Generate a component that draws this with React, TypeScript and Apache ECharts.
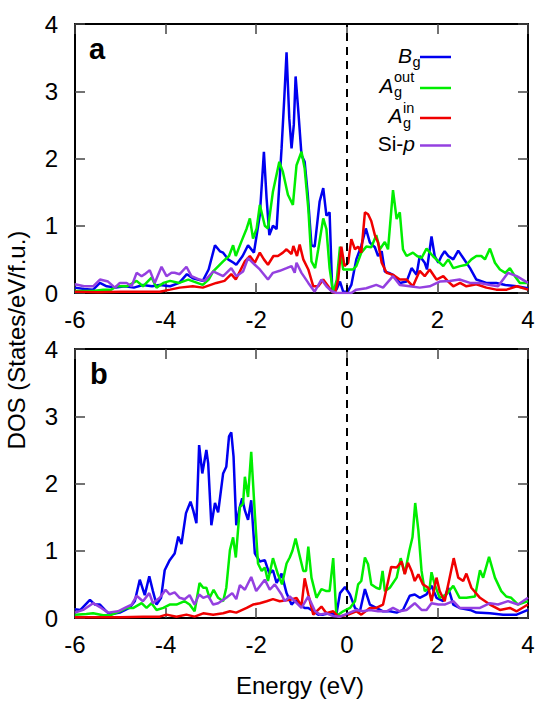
import React, { useEffect, useRef } from "react";
import * as echarts from "echarts";

// Energy (eV), DOS (States/eV/f.u.) pairs
const aBg: number[][] = [
  [-6.0, 0.08], [-5.8, 0.06], [-5.6, 0.05], [-5.45, 0.15], [-5.3, 0.1], [-5.1, 0.08], [-4.9, 0.1], [-4.7, 0.08],
  [-4.5, 0.12], [-4.3, 0.1], [-4.13, 0.12], [-3.9, 0.1], [-3.7, 0.15], [-3.53, 0.28], [-3.4, 0.22], [-3.18, 0.18],
  [-3.05, 0.35], [-2.91, 0.71], [-2.8, 0.62], [-2.73, 0.6], [-2.62, 0.5], [-2.5, 0.45], [-2.44, 0.42], [-2.3, 0.55],
  [-2.18, 0.71], [-2.05, 0.6], [-1.92, 1.16], [-1.83, 2.1], [-1.77, 1.4], [-1.71, 0.86], [-1.63, 1.0], [-1.55, 0.95],
  [-1.44, 2.15], [-1.38, 2.9], [-1.33, 3.58], [-1.27, 2.6], [-1.22, 2.15], [-1.17, 2.5], [-1.13, 3.22], [-1.07, 2.7],
  [-1.0, 2.05], [-0.93, 1.95], [-0.86, 1.45], [-0.78, 0.71], [-0.71, 0.69], [-0.6, 1.36], [-0.52, 1.56], [-0.45, 1.15],
  [-0.38, 1.2], [-0.32, 0.0], [-0.23, 0.05], [-0.15, 0.17], [-0.08, 0.02], [0.02, 0.02], [0.1, 0.12], [0.21, 0.5],
  [0.32, 0.7], [0.42, 0.96], [0.51, 0.75], [0.62, 0.68], [0.69, 0.55], [0.77, 0.62], [0.84, 0.32], [0.93, 0.3],
  [1.02, 0.27], [1.1, 0.2], [1.17, 0.15], [1.32, 0.17], [1.43, 0.37], [1.54, 0.27], [1.61, 0.55], [1.72, 0.45],
  [1.77, 0.35], [1.87, 0.84], [1.94, 0.55], [2.02, 0.45], [2.09, 0.55], [2.16, 0.62], [2.24, 0.55], [2.35, 0.5],
  [2.46, 0.63], [2.57, 0.52], [2.72, 0.37], [2.86, 0.2], [3.08, 0.15], [3.3, 0.15], [3.5, 0.12], [3.75, 0.1], [4.0, 0.07],
];

const aAout: number[][] = [
  [-6.0, 0.03], [-5.6, 0.03], [-5.38, 0.05], [-5.2, 0.05], [-5.08, 0.1], [-4.85, 0.1], [-4.64, 0.18], [-4.5, 0.1],
  [-4.31, 0.23], [-4.2, 0.08], [-4.05, 0.15], [-3.9, 0.18], [-3.7, 0.15], [-3.5, 0.2], [-3.3, 0.15], [-3.18, 0.12],
  [-3.05, 0.2], [-2.95, 0.32], [-2.73, 0.47], [-2.6, 0.55], [-2.51, 0.71], [-2.45, 0.55], [-2.33, 0.76], [-2.21, 0.96],
  [-2.14, 1.11], [-2.07, 0.81], [-1.99, 0.96], [-1.92, 1.31], [-1.81, 1.0], [-1.74, 0.96], [-1.63, 1.51], [-1.49, 1.95],
  [-1.41, 1.8], [-1.3, 1.46], [-1.19, 1.31], [-1.11, 1.9], [-1.0, 2.1], [-0.93, 1.85], [-0.85, 1.26], [-0.78, 0.47],
  [-0.7, 0.37], [-0.63, 0.65], [-0.52, 1.11], [-0.45, 0.95], [-0.38, 0.37], [-0.3, 0.0], [-0.22, 0.2], [-0.15, 0.69],
  [-0.08, 0.35], [0.03, 0.35], [0.14, 0.35], [0.21, 0.4], [0.32, 0.6], [0.43, 0.69], [0.54, 0.68], [0.65, 0.86],
  [0.73, 0.65], [0.84, 0.76], [0.91, 0.65], [1.02, 1.53], [1.1, 1.1], [1.17, 1.2], [1.24, 0.65], [1.32, 0.55],
  [1.46, 0.6], [1.55, 0.55], [1.65, 0.52], [1.76, 0.66], [1.9, 0.55], [2.02, 0.47], [2.13, 0.4], [2.24, 0.5],
  [2.35, 0.37], [2.5, 0.4], [2.64, 0.42], [2.75, 0.5], [2.86, 0.55], [2.97, 0.55], [3.05, 0.5], [3.16, 0.66],
  [3.27, 0.45], [3.38, 0.35], [3.5, 0.3], [3.6, 0.37], [3.71, 0.25], [3.82, 0.15], [4.0, 0.15],
];

const aAin: number[][] = [
  [-6.0, 0.02], [-5.5, 0.01], [-5.0, 0.02], [-4.5, 0.02], [-4.13, 0.02], [-3.9, 0.05], [-3.69, 0.08], [-3.4, 0.1],
  [-3.18, 0.08], [-2.88, 0.15], [-2.7, 0.18], [-2.55, 0.28], [-2.45, 0.2], [-2.25, 0.47], [-2.14, 0.55], [-2.03, 0.45],
  [-1.92, 0.6], [-1.83, 0.5], [-1.74, 0.42], [-1.62, 0.55], [-1.52, 0.55], [-1.41, 0.6], [-1.33, 0.65], [-1.22, 0.58],
  [-1.18, 0.7], [-1.1, 0.55], [-1.04, 0.72], [-0.96, 0.5], [-0.85, 0.35], [-0.74, 0.1], [-0.63, 0.1], [-0.52, 0.2],
  [-0.41, 0.1], [-0.33, 0.02], [-0.26, 0.0], [-0.19, 0.2], [-0.12, 0.69], [-0.05, 0.4], [0.03, 0.45], [0.1, 0.8],
  [0.18, 0.65], [0.25, 0.69], [0.32, 0.6], [0.4, 1.2], [0.47, 1.17], [0.54, 1.07], [0.62, 0.86], [0.69, 0.75],
  [0.77, 0.45], [0.88, 0.3], [1.02, 0.27], [1.17, 0.2], [1.32, 0.2], [1.46, 0.1], [1.61, 0.33], [1.72, 0.25],
  [1.83, 0.35], [1.98, 0.2], [2.13, 0.25], [2.24, 0.17], [2.35, 0.1], [2.5, 0.15], [2.64, 0.1], [2.86, 0.13],
  [3.08, 0.08], [3.3, 0.05], [3.53, 0.05], [3.75, 0.1], [4.0, 0.05],
];

const aSip: number[][] = [
  [-6.0, 0.13], [-5.8, 0.1], [-5.6, 0.1], [-5.45, 0.2], [-5.27, 0.17], [-5.12, 0.08], [-5.01, 0.15], [-4.86, 0.15],
  [-4.75, 0.1], [-4.64, 0.3], [-4.53, 0.25], [-4.46, 0.28], [-4.35, 0.34], [-4.24, 0.15], [-4.09, 0.39], [-3.98, 0.25],
  [-3.87, 0.3], [-3.8, 0.3], [-3.69, 0.28], [-3.54, 0.39], [-3.43, 0.25], [-3.25, 0.2], [-3.14, 0.18], [-2.95, 0.32],
  [-2.73, 0.25], [-2.55, 0.37], [-2.44, 0.25], [-2.29, 0.32], [-2.18, 0.52], [-2.03, 0.42], [-1.92, 0.35], [-1.74, 0.2],
  [-1.63, 0.3], [-1.48, 0.33], [-1.33, 0.37], [-1.22, 0.4], [-1.15, 0.3], [-1.11, 0.45], [-1.0, 0.3], [-0.85, 0.15],
  [-0.71, 0.02], [-0.56, 0.2], [-0.45, 0.1], [-0.34, 0.03], [-0.23, 0.0], [-0.04, 0.0], [0.1, 0.0], [0.21, 0.05],
  [0.43, 0.07], [0.65, 0.12], [0.8, 0.08], [1.02, 0.25], [1.17, 0.12], [1.39, 0.1], [1.61, 0.08], [1.83, 0.1],
  [2.05, 0.17], [2.27, 0.18], [2.49, 0.2], [2.72, 0.15], [2.94, 0.15], [3.16, 0.12], [3.34, 0.1], [3.56, 0.3],
  [3.75, 0.25], [4.0, 0.15],
];

const bBg: number[][] = [
  [-6.0, 0.13], [-5.88, 0.12], [-5.67, 0.27], [-5.56, 0.2], [-5.45, 0.2], [-5.34, 0.12], [-5.23, 0.05], [-5.01, 0.08],
  [-4.8, 0.15], [-4.68, 0.25], [-4.57, 0.57], [-4.46, 0.34], [-4.36, 0.62], [-4.28, 0.4], [-4.2, 0.2], [-4.1, 0.3],
  [-4.02, 0.71], [-3.91, 0.86], [-3.8, 0.96], [-3.72, 1.21], [-3.65, 1.1], [-3.55, 1.56], [-3.45, 1.73], [-3.39, 1.6],
  [-3.32, 1.41], [-3.26, 2.57], [-3.19, 2.15], [-3.1, 2.5], [-3.06, 2.3], [-2.99, 1.38], [-2.91, 1.71], [-2.84, 1.57],
  [-2.73, 2.15], [-2.66, 2.25], [-2.6, 2.7], [-2.55, 2.76], [-2.5, 2.4], [-2.44, 1.38], [-2.37, 1.63], [-2.31, 1.78],
  [-2.25, 1.6], [-2.18, 1.46], [-2.11, 1.75], [-2.03, 0.96], [-1.92, 0.84], [-1.81, 0.86], [-1.71, 0.66], [-1.63, 0.71],
  [-1.55, 0.52], [-1.44, 0.66], [-1.33, 0.37], [-1.22, 0.2], [-1.15, 0.25], [-1.1, 0.25], [-1.04, 0.2], [-0.93, 0.15],
  [-0.85, 0.15], [-0.74, 0.1], [-0.63, 0.05], [-0.52, 0.05], [-0.38, 0.07], [-0.23, 0.05], [-0.15, 0.37], [-0.04, 0.46],
  [0.07, 0.35], [0.18, 0.15], [0.29, 0.1], [0.4, 0.43], [0.51, 0.2], [0.65, 0.15], [0.8, 0.1], [0.95, 0.1],
  [1.1, 0.08], [1.24, 0.12], [1.39, 0.33], [1.5, 0.35], [1.61, 0.3], [1.76, 0.35], [1.87, 0.48], [1.98, 0.3],
  [2.13, 0.25], [2.24, 0.45], [2.35, 0.2], [2.49, 0.15], [2.72, 0.12], [2.86, 0.08], [3.16, 0.07], [3.45, 0.05],
  [3.75, 0.05], [4.0, 0.12],
];

const bAout: number[][] = [
  [-6.0, 0.05], [-5.75, 0.06], [-5.6, 0.07], [-5.38, 0.04], [-5.23, 0.04], [-5.01, 0.1], [-4.86, 0.15], [-4.71, 0.15],
  [-4.53, 0.22], [-4.42, 0.15], [-4.31, 0.22], [-4.2, 0.12], [-4.05, 0.15], [-3.91, 0.2], [-3.76, 0.2], [-3.58, 0.25],
  [-3.47, 0.2], [-3.36, 0.1], [-3.25, 0.52], [-3.17, 0.45], [-3.1, 0.45], [-3.03, 0.3], [-2.94, 0.42], [-2.84, 0.3],
  [-2.73, 0.25], [-2.66, 0.45], [-2.58, 1.01], [-2.51, 1.2], [-2.45, 0.9], [-2.36, 1.65], [-2.29, 1.7], [-2.25, 2.1],
  [-2.18, 1.8], [-2.11, 2.47], [-2.03, 1.55], [-1.96, 0.81], [-1.88, 0.7], [-1.81, 0.75], [-1.74, 0.55], [-1.63, 0.89],
  [-1.52, 0.65], [-1.43, 0.5], [-1.33, 0.81], [-1.26, 0.9], [-1.2, 1.0], [-1.13, 1.18], [-1.05, 0.95], [-0.96, 0.7],
  [-0.9, 0.7], [-0.85, 1.06], [-0.78, 0.6], [-0.67, 0.3], [-0.56, 0.43], [-0.45, 0.4], [-0.38, 0.4], [-0.3, 0.89],
  [-0.23, 0.03], [-0.08, 0.1], [0.07, 0.15], [0.18, 0.25], [0.25, 0.5], [0.32, 0.55], [0.4, 0.9], [0.47, 0.8],
  [0.54, 0.5], [0.65, 0.45], [0.73, 0.43], [0.79, 0.7], [0.84, 0.4], [0.95, 0.45], [1.1, 0.6], [1.19, 0.89],
  [1.28, 0.66], [1.38, 1.0], [1.45, 1.2], [1.51, 1.71], [1.58, 1.3], [1.65, 0.7], [1.72, 0.4], [1.83, 0.45],
  [1.87, 0.68], [1.94, 0.5], [2.05, 0.3], [2.2, 0.35], [2.35, 0.48], [2.49, 0.3], [2.64, 0.3], [2.83, 0.32],
  [2.94, 0.71], [3.01, 0.6], [3.14, 0.91], [3.27, 0.6], [3.41, 0.4], [3.52, 0.32], [3.63, 0.3], [3.78, 0.2], [4.0, 0.25],
];

const bAin: number[][] = [
  [-6.0, 0.01], [-5.5, 0.01], [-5.0, 0.01], [-4.5, 0.02], [-4.13, 0.02], [-3.98, 0.05], [-3.76, 0.02], [-3.54, 0.05],
  [-3.36, 0.02], [-3.17, 0.07], [-2.95, 0.05], [-2.73, 0.07], [-2.58, 0.1], [-2.44, 0.08], [-2.21, 0.15], [-2.07, 0.2],
  [-1.92, 0.22], [-1.77, 0.25], [-1.63, 0.28], [-1.48, 0.25], [-1.26, 0.27], [-1.11, 0.3], [-1.0, 0.18], [-0.93, 0.59],
  [-0.85, 0.35], [-0.74, 0.05], [-0.56, 0.17], [-0.45, 0.07], [-0.3, 0.1], [-0.19, 0.02], [0.03, 0.05], [0.21, 0.1],
  [0.32, 0.05], [0.51, 0.15], [0.65, 0.15], [0.8, 0.2], [0.88, 0.45], [0.98, 0.76], [1.1, 0.75], [1.21, 0.84],
  [1.28, 0.65], [1.35, 0.82], [1.43, 0.7], [1.5, 0.55], [1.58, 0.65], [1.68, 0.5], [1.8, 0.45], [1.87, 0.25],
  [1.98, 0.6], [2.05, 0.4], [2.16, 0.25], [2.27, 0.6], [2.36, 0.89], [2.46, 0.6], [2.57, 0.55], [2.64, 0.66],
  [2.75, 0.45], [2.94, 0.3], [3.16, 0.2], [3.38, 0.12], [3.6, 0.15], [3.75, 0.1], [4.0, 0.2],
];

const bSip: number[][] = [
  [-6.0, 0.08], [-5.82, 0.12], [-5.6, 0.22], [-5.42, 0.15], [-5.27, 0.08], [-5.05, 0.1], [-4.9, 0.15], [-4.75, 0.2],
  [-4.64, 0.33], [-4.5, 0.25], [-4.36, 0.37], [-4.28, 0.22], [-4.13, 0.3], [-4.0, 0.42], [-3.91, 0.35], [-3.8, 0.38],
  [-3.69, 0.3], [-3.58, 0.28], [-3.47, 0.34], [-3.36, 0.2], [-3.26, 0.35], [-3.17, 0.3], [-3.06, 0.33], [-2.95, 0.2],
  [-2.84, 0.22], [-2.66, 0.3], [-2.53, 0.37], [-2.44, 0.28], [-2.36, 0.49], [-2.25, 0.42], [-2.11, 0.61], [-2.0, 0.4],
  [-1.81, 0.57], [-1.7, 0.42], [-1.59, 0.5], [-1.44, 0.35], [-1.37, 0.25], [-1.26, 0.32], [-1.15, 0.25], [-1.0, 0.15],
  [-0.85, 0.32], [-0.7, 0.1], [-0.59, 0.05], [-0.45, 0.07], [-0.3, 0.03], [-0.15, 0.02], [0.03, 0.07], [0.21, 0.12],
  [0.36, 0.1], [0.51, 0.12], [0.69, 0.1], [0.88, 0.1], [1.02, 0.15], [1.17, 0.1], [1.32, 0.12], [1.5, 0.22],
  [1.65, 0.12], [1.76, 0.12], [1.87, 0.22], [2.02, 0.2], [2.16, 0.2], [2.35, 0.25], [2.49, 0.15], [2.72, 0.15],
  [2.94, 0.15], [3.16, 0.22], [3.34, 0.2], [3.56, 0.25], [3.78, 0.2], [4.0, 0.3],
];

const xTicks = { min: -6, max: 4, interval: 2 };
const yTicks = { min: 0, max: 4, interval: 1 };
const panelLabels = ["a", "b"];
const seriesNames = ["Bg", "Agout", "Agin", "Si-p"];
const colors = ["#0000f0", "#00ee00", "#f00000", "#9440e0"];
const FONT = "Liberation Sans, Arial, Helvetica, sans-serif";

export default function App() {
  const ref = useRef<HTMLDivElement>(null);
  useEffect(() => {
    const chart = echarts.init(ref.current!, null, { renderer: "svg" });
    const axisLine = { show: true, onZero: false, lineStyle: { color: "#000", width: 2 } };
    const axisTick = { show: true, inside: true, length: 10, lineStyle: { color: "#444", width: 1.5 } };
    const labelStyle = { color: "#000", fontSize: 24, fontFamily: FONT };
    const xAxis: any[] = [];
    const yAxis: any[] = [];
    [0, 1].forEach((g) => {
      xAxis.push({ type: "value", gridIndex: g, position: "bottom", ...xTicks, axisLine, axisTick, splitLine: { show: false }, axisLabel: { ...labelStyle, margin: 14 } });
      xAxis.push({ type: "value", gridIndex: g, position: "top", ...xTicks, axisLine, axisTick, splitLine: { show: false }, axisLabel: { show: false } });
      yAxis.push({ type: "value", gridIndex: g, position: "left", ...yTicks, axisLine, axisTick, splitLine: { show: false }, axisLabel: { ...labelStyle, margin: 17 } });
      yAxis.push({ type: "value", gridIndex: g, position: "right", ...yTicks, axisLine, axisTick, splitLine: { show: false }, axisLabel: { show: false } });
    });
    const panels = [
      [aBg, aAout, aAin, aSip],
      [bBg, bAout, bAin, bSip],
    ];
    const series: any[] = [];
    panels.forEach((sets, g) => {
      sets.forEach((data, i) => {
        series.push({
          type: "line",
          name: seriesNames[i] + g,
          xAxisIndex: g * 2,
          yAxisIndex: g * 2,
          data,
          showSymbol: false,
          symbol: "none",
          lineStyle: { color: colors[i], width: 2.5 },
          z: 2 + i,
          markLine: i === 0 ? {
            silent: true,
            symbol: ["none", "none"],
            label: { show: false },
            lineStyle: { color: "#000", type: [8, 6], width: 2 },
            data: [{ xAxis: 0 }],
          } : undefined,
        });
      });
    });
    const ital = { fontFamily: FONT, fontStyle: "italic", fontSize: 21, lineHeight: 16, fill: "#000" };
    const small = { fontFamily: FONT, fontSize: 14.5, lineHeight: 10, fill: "#000" };
    const legendY = [57, 88, 118, 145.5];
    const graphic: any[] = [
      { type: "text", x: 89, y: 48.5, style: { text: panelLabels[0], font: `bold 29px ${FONT}`, fill: "#000", textAlign: "left", textVerticalAlign: "middle" } },
      { type: "text", x: 90, y: 373.5, style: { text: panelLabels[1], font: `bold 29px ${FONT}`, fill: "#000", textAlign: "left", textVerticalAlign: "middle" } },
      { type: "text", x: 300, y: 685, style: { text: "Energy (eV)", fontFamily: FONT, fontSize: 24, fill: "#000", textAlign: "center", textVerticalAlign: "middle" } },
      { type: "text", x: 16, y: 340, rotation: Math.PI / 2, style: { text: "DOS (States/eV/f.u.)", fontFamily: FONT, fontSize: 24, fill: "#000", textAlign: "center", textVerticalAlign: "middle" } },
      // legend entry 1: B_g
      { type: "text", x: 412, y: 55.7, style: { ...ital, text: "B", textAlign: "right", textVerticalAlign: "middle" } },
      { type: "text", x: 412.5, y: 62, style: { ...small, text: "g", textAlign: "left", textVerticalAlign: "middle" } },
      // legend entry 2: A_g^out
      { type: "text", x: 393.5, y: 85.7, style: { ...ital, text: "A", textAlign: "right", textVerticalAlign: "middle" } },
      { type: "text", x: 394, y: 77, style: { ...small, text: "out", textAlign: "left", textVerticalAlign: "middle" } },
      { type: "text", x: 394, y: 92.3, style: { ...small, text: "g", textAlign: "left", textVerticalAlign: "middle" } },
      // legend entry 3: A_g^in
      { type: "text", x: 402.5, y: 115.7, style: { ...ital, text: "A", textAlign: "right", textVerticalAlign: "middle" } },
      { type: "text", x: 403, y: 108, style: { ...small, text: "in", textAlign: "left", textVerticalAlign: "middle" } },
      { type: "text", x: 403, y: 123, style: { ...small, text: "g", textAlign: "left", textVerticalAlign: "middle" } },
      // legend entry 4: Si-p
      {
        type: "text", x: 415, y: 143.5,
        style: {
          text: "{n|Si-}{i|p}", textAlign: "right", textVerticalAlign: "middle",
          rich: {
            n: { fontFamily: FONT, fontSize: 21, fill: "#000" },
            i: { fontFamily: FONT, fontSize: 21, fontStyle: "italic", fill: "#000" },
          },
        },
      },
    ];
    legendY.forEach((y, i) => {
      graphic.push({ type: "line", shape: { x1: 420, y1: y, x2: 451, y2: y }, style: { stroke: colors[i], lineWidth: 2.5 } });
    });
    chart.setOption({
      animation: false,
      backgroundColor: "#fff",
      grid: [
        { left: 75, top: 24, width: 453, height: 269 },
        { left: 75, top: 349, width: 453, height: 269 },
      ],
      xAxis,
      yAxis,
      series,
      graphic,
    });
    return () => chart.dispose();
  }, []);
  return <div ref={ref} style={{ position: "fixed", left: 0, top: 0, width: 547, height: 703 }} />;
}
